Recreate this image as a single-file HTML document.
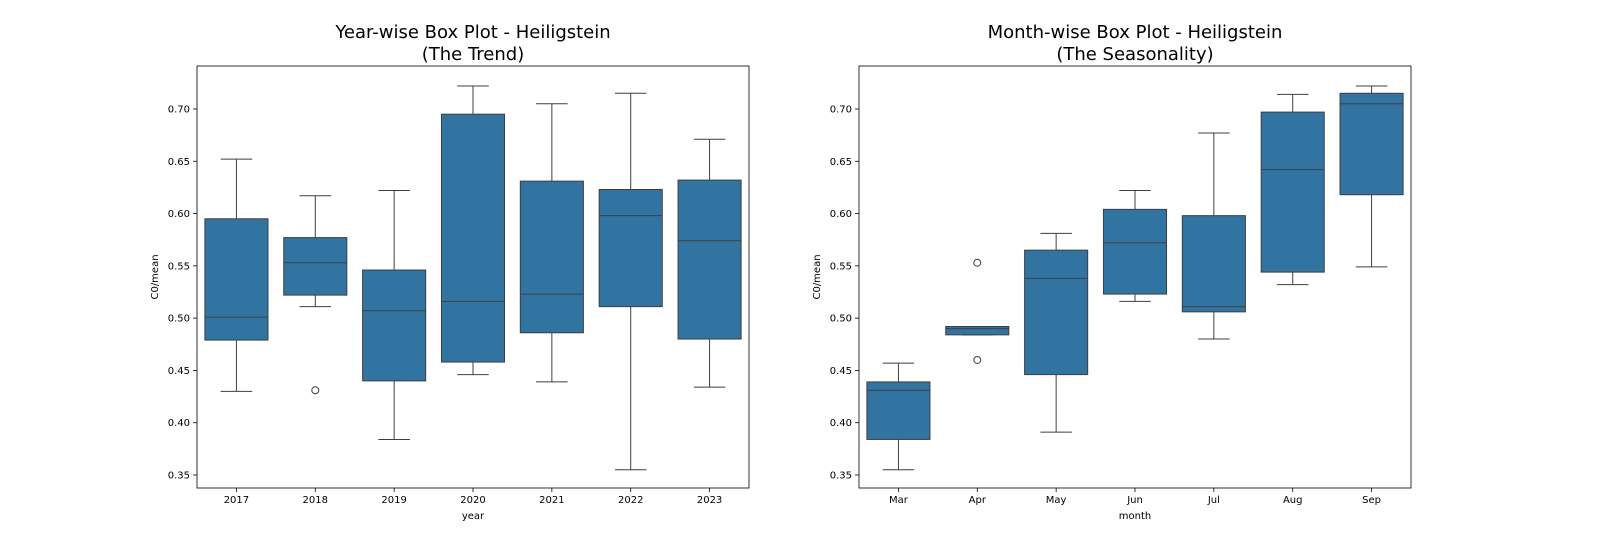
<!DOCTYPE html>
<html><head><meta charset="utf-8">
<style>
html,body{margin:0;padding:0;background:#fff;}
svg{display:block;font-family:"DejaVu Sans","Liberation Sans",sans-serif;}
</style></head>
<body>
<svg id="chart" width="1600" height="560" viewBox="0 0 1600 560" xmlns="http://www.w3.org/2000/svg"></svg>
<script>
const yearCategories = ["2017","2018","2019","2020","2021","2022","2023"];
const yearWhisLo = [0.430,0.511,0.384,0.446,0.439,0.355,0.434];
const yearQ1     = [0.479,0.522,0.440,0.458,0.486,0.511,0.480];
const yearMedian = [0.501,0.553,0.507,0.516,0.523,0.598,0.574];
const yearQ3     = [0.595,0.577,0.546,0.695,0.631,0.623,0.632];
const yearWhisHi = [0.652,0.617,0.622,0.722,0.705,0.715,0.671];
const yearFliers = [[],[0.431],[],[],[],[],[]];

const monthCategories = ["Mar","Apr","May","Jun","Jul","Aug","Sep"];
const monthWhisLo = [0.355,0.484,0.391,0.516,0.480,0.532,0.549];
const monthQ1     = [0.384,0.484,0.446,0.523,0.506,0.544,0.618];
const monthMedian = [0.431,0.490,0.538,0.572,0.511,0.642,0.705];
const monthQ3     = [0.439,0.492,0.565,0.604,0.598,0.697,0.715];
const monthWhisHi = [0.457,0.492,0.581,0.622,0.677,0.714,0.722];
const monthFliers = [[],[0.553,0.460],[],[],[],[],[]];

const yTicks = [0.35,0.40,0.45,0.50,0.55,0.60,0.65,0.70];

const NS = "http://www.w3.org/2000/svg";
const svg = document.getElementById("chart");
function mk(tag, attrs, parent){
  const e = document.createElementNS(NS, tag);
  for (const k in attrs) e.setAttribute(k, attrs[k]);
  (parent||svg).appendChild(e);
  return e;
}

function panel(x0, x1, title1, title2, xlabel, cats, lo, q1, med, q3, hi, fl, prefix){
  const top = 66, bottom = 488;
  const y = v => 475 - (v - 0.35) / 0.05 * 52.29;
  const step = (x1 - x0) / cats.length;
  const xc = i => x0 + step * (i + 0.5);
  const bw = step * 0.8;
  const g = mk("g", {});
  
  

  const t1 = mk("text", {x:(x0+x1)/2, y:38, "text-anchor":"middle", "font-size":18, fill:"#000"}, g);
  t1.textContent = title1;
  
  
  const t2 = mk("text", {x:(x0+x1)/2, y:60, "text-anchor":"middle", "font-size":18, fill:"#000"}, g);
  t2.textContent = title2;
  
  

  yTicks.forEach(v => {
    const yy = y(v);
    const tk = mk("line", {x1:x0-4, x2:x0, y1:yy, y2:yy, stroke:"#000", "stroke-width":0.8}, g);
    
    
    const tl = mk("text", {x:x0-7, y:yy+3.5, "text-anchor":"end", "font-size":10, fill:"#000"}, g);
    tl.textContent = v.toFixed(2);
    
    
  });
  const yl = mk("text", {x:0, y:0, transform:`translate(${x0-39},${(top+bottom)/2}) rotate(-90)`, "text-anchor":"middle", "font-size":10, fill:"#000"}, g);
  yl.textContent = "C0/mean";
  
  

  cats.forEach((c, i) => {
    const cx = xc(i);
    const tk = mk("line", {x1:cx, x2:cx, y1:bottom, y2:bottom+4, stroke:"#000", "stroke-width":0.8}, g);
    
    
    const tl = mk("text", {x:cx, y:bottom+15, "text-anchor":"middle", "font-size":10, fill:"#000"}, g);
    tl.textContent = c;
    
    

    const col = "#3f3f3f";
    const w1 = mk("line", {x1:cx, x2:cx, y1:y(lo[i]), y2:y(q1[i]), stroke:col, "stroke-width":1}, g);
    
    
    const w2 = mk("line", {x1:cx, x2:cx, y1:y(q3[i]), y2:y(hi[i]), stroke:col, "stroke-width":1}, g);
    
    
    const c1 = mk("line", {x1:cx-bw/4, x2:cx+bw/4, y1:y(lo[i]), y2:y(lo[i]), stroke:col, "stroke-width":1}, g);
    
    
    const c2 = mk("line", {x1:cx-bw/4, x2:cx+bw/4, y1:y(hi[i]), y2:y(hi[i]), stroke:col, "stroke-width":1}, g);
    
    
    const b = mk("rect", {x:cx-bw/2, y:y(q3[i]), width:bw, height:Math.max(0.5, y(q1[i])-y(q3[i])), fill:"#3274a1", stroke:col, "stroke-width":1}, g);
    
    
    const m = mk("line", {x1:cx-bw/2, x2:cx+bw/2, y1:y(med[i]), y2:y(med[i]), stroke:col, "stroke-width":1}, g);
    
    
    fl[i].forEach(v => {
      const f = mk("circle", {cx:cx, cy:y(v), r:3.5, fill:"none", stroke:col, "stroke-width":1}, g);
      
      
    });
  });

  const fr = mk("rect", {x:x0, y:top, width:x1-x0, height:bottom-top, fill:"none", stroke:"#000", "stroke-width":0.8}, g);
  
  
  const xl = mk("text", {x:(x0+x1)/2, y:bottom+31, "text-anchor":"middle", "font-size":10, fill:"#000"}, g);
  xl.textContent = xlabel;
  
  
}

panel(197, 749, "Year-wise Box Plot - Heiligstein", "(The Trend)", "year",
  yearCategories, yearWhisLo, yearQ1, yearMedian, yearQ3, yearWhisHi, yearFliers, "year");
panel(859, 1411, "Month-wise Box Plot - Heiligstein", "(The Seasonality)", "month",
  monthCategories, monthWhisLo, monthQ1, monthMedian, monthQ3, monthWhisHi, monthFliers, "month");
</script>
</body></html>
